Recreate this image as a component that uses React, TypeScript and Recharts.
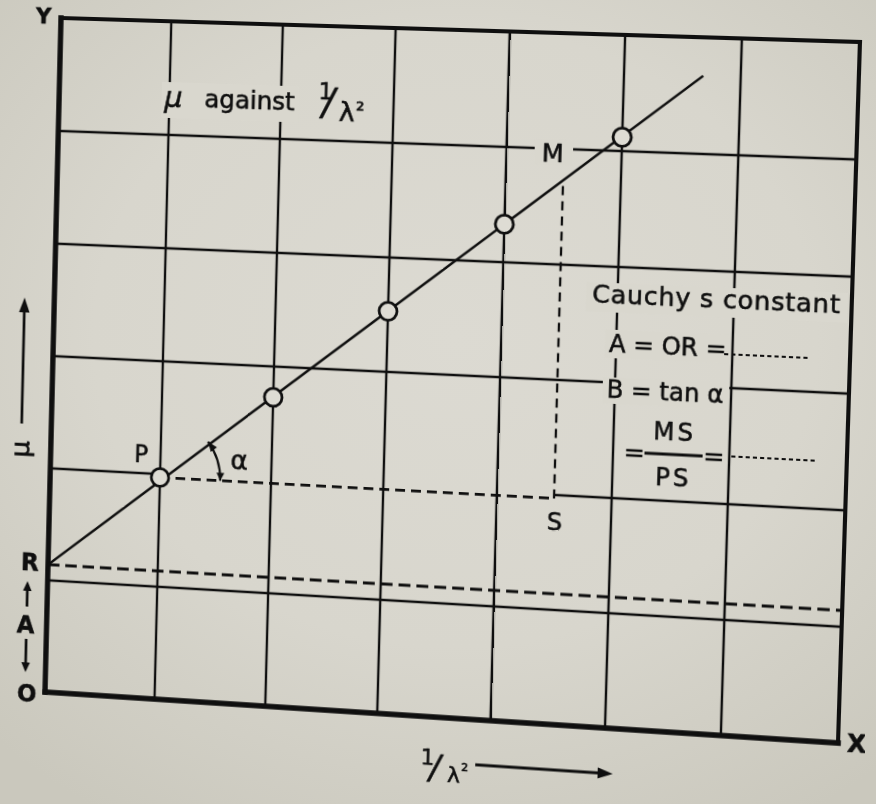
import React from 'react';
import {
  ComposedChart,
  XAxis,
  YAxis,
  Line,
  Scatter,
  ReferenceLine,
  ReferenceDot,
} from 'recharts';

const WIDTH = 876;
const HEIGHT = 804;
// Plot rectangle inside the SVG (before the sheet tilt is applied)
const PLOT = { left: 52, top: 18, width: 798, height: 684 };

const INK = '#0f0f0f';
const PAPER = '#d9d7ce';
const FONT = '"DejaVu Sans", "Liberation Sans", sans-serif';

// Graph-paper extent, in squares
const xMax = 7;
const yMax = 6;
const xGridLines = [1, 2, 3, 4, 5, 6];
const yGridLines = [1, 3, 4, 5]; // the line at 2 is split around the PS construction
const splitGridLine = 2;

// Readings: refractive index μ against 1/λ²
const invLambdaSq = [1, 2, 3, 4, 5];
const muReadings = [1.97, 2.73, 3.53, 4.33, 5.12];

// Straight line drawn through the readings
const fitInvLambdaSq = [0, 5.68];
const fitMu = [1.14, 5.67];

// Construction: S lies under M, level with P
const sInvLambdaSq = 4.5;
const mMu = 4.73;

// Corners of the plot frame on the tilted sheet: TL, TR, BR, BL
const sheetCorners: [number, number][] = [
  [61, 18],
  [860, 42],
  [838, 743],
  [45, 692],
];

const points = invLambdaSq.map((x, i) => ({ x, mu: muReadings[i] }));
const fitData = fitInvLambdaSq.map((x, i) => ({ x, mu: fitMu[i] }));
const R = fitMu[0];
const P = points[0];

const unitX = PLOT.width / xMax;
const unitY = PLOT.height / yMax;
const slopeAngle = Math.atan(
  ((fitMu[1] - fitMu[0]) / (fitInvLambdaSq[1] - fitInvLambdaSq[0])) * (unitY / unitX)
);

// Projective map of the plot rectangle onto the four sheet corners
function sheetMatrix(): string {
  const [[x0, y0], [x1, y1], [x2, y2], [x3, y3]] = sheetCorners;
  const dx1 = x1 - x2;
  const dy1 = y1 - y2;
  const dx2 = x3 - x2;
  const dy2 = y3 - y2;
  const dx3 = x0 - x1 + x2 - x3;
  const dy3 = y0 - y1 + y2 - y3;
  const den = dx1 * dy2 - dx2 * dy1;
  const g = (dx3 * dy2 - dx2 * dy3) / den;
  const h = (dx1 * dy3 - dx3 * dy1) / den;
  const a = x1 - x0 + g * x1;
  const b = x3 - x0 + h * x3;
  const c = x0;
  const d = y1 - y0 + g * y1;
  const e = y3 - y0 + h * y3;
  const f = y0;
  const { left: L, top: T, width: Wp, height: Hp } = PLOT;
  const m = [
    a / Wp, d / Wp, 0, g / Wp,
    b / Hp, e / Hp, 0, h / Hp,
    0, 0, 1, 0,
    c - (a * L) / Wp - (b * T) / Hp,
    f - (d * L) / Wp - (e * T) / Hp,
    0,
    1 - (g * L) / Wp - (h * T) / Hp,
  ];
  return `matrix3d(${m.map((v) => v.toFixed(8)).join(',')})`;
}

// Printed lettering: slightly heavier than the regular face
const txt = { fill: INK, fontFamily: FONT, stroke: INK, strokeWidth: 0.55 } as const;

const mark = (draw: (cx: number, cy: number) => React.ReactNode) => (p: any) =>
  <g>{draw(p.cx, p.cy)}</g>;

function arrowHead(tx: number, ty: number, dirX: number, dirY: number, len = 12, half = 4.5) {
  const bx = tx - dirX * len;
  const by = ty - dirY * len;
  const nx = -dirY;
  const ny = dirX;
  return (
    <path
      d={`M${tx},${ty} L${bx + nx * half},${by + ny * half} L${bx - nx * half},${by - ny * half} Z`}
      fill={INK}
      stroke="none"
    />
  );
}

const drawTitle = (cx: number, cy: number) => (
  <>
    <rect x={cx - 8} y={cy - 53} width={140} height={36} fill={PAPER} />
    <text {...txt}>
      <tspan x={cx - 5} y={cy - 28} fontSize={29} fontStyle="italic">μ</tspan>
      <tspan x={cx + 36} y={cy - 29} fontSize={25}>against</tspan>
      <tspan x={cx + 152} y={cy - 41} fontSize={23}>1</tspan>
      <tspan x={cx + 156} y={cy - 26} fontSize={37} fontStyle="italic">/</tspan>
      <tspan x={cx + 173} y={cy - 20} fontSize={27}>λ</tspan>
      <tspan x={cx + 190} y={cy - 24} fontSize={22}>²</tspan>
    </text>
  </>
);

const drawXLabel = (cx: number, cy: number) => (
  <>
    <text {...txt}>
      <tspan x={cx - 12} y={cy + 48} fontSize={22}>1</tspan>
      <tspan x={cx - 3} y={cy + 62} fontSize={33} fontStyle="italic">/</tspan>
      <tspan x={cx + 15} y={cy + 64} fontSize={22}>λ</tspan>
      <tspan x={cx + 29} y={cy + 58} fontSize={18}>²</tspan>
    </text>
    <line x1={cx + 43} y1={cy + 45} x2={cx + 168} y2={cy + 45} stroke={INK} strokeWidth={2.8} />
    {arrowHead(cx + 180, cy + 45, 1, 0, 15, 5.5)}
  </>
);

const drawYLabel = (cx: number, cy: number) => (
  <>
    <text
      {...txt}
      x={cx - 32}
      y={cy - 18}
      fontSize={27}
      textAnchor="middle"
      dominantBaseline="central"
      transform={`rotate(-90 ${cx - 32} ${cy - 18})`}
    >
      μ
    </text>
    <line x1={cx - 31} y1={cy - 44} x2={cx - 31} y2={cy - 160} stroke={INK} strokeWidth={2.8} />
    {arrowHead(cx - 31, cy - 172, 0, -1, 15, 5.5)}
  </>
);

const drawInterceptBracket = (cx: number, cy: number) => (
  <>
    <text {...txt} x={cx - 22} y={cy + 6} fontSize={24} fontWeight={700} textAnchor="middle">A</text>
    <line x1={cx - 21} y1={cy - 21} x2={cx - 21} y2={cy - 38} stroke={INK} strokeWidth={2.8} />
    {arrowHead(cx - 21, cy - 47, 0, -1, 10, 4.5)}
    <line x1={cx - 21} y1={cy + 12} x2={cx - 21} y2={cy + 37} stroke={INK} strokeWidth={2.8} />
    {arrowHead(cx - 21, cy + 46, 0, 1, 10, 4.5)}
  </>
);

const drawAngle = (cx: number, cy: number) => {
  const r = 62;
  const ex = cx + r * Math.cos(slopeAngle);
  const ey = cy - r * Math.sin(slopeAngle);
  return (
    <>
      <path d={`M${cx + r},${cy} A${r},${r} 0 0 0 ${ex},${ey}`} fill="none" stroke={INK} strokeWidth={2.2} />
      {arrowHead(ex, ey, -Math.sin(slopeAngle), -Math.cos(slopeAngle), 10, 4)}
      {arrowHead(cx + r, cy, 0, 1, 8, 4)}
      <text {...txt} x={cx + 72} y={cy - 12} fontSize={27}>α</text>
    </>
  );
};

const drawCauchy = (cx: number, cy: number) => (
  <>
    <rect x={cx - 31} y={cy - 98} width={255} height={29} fill={PAPER} />
    <text {...txt} x={cx - 25} y={cy - 78} fontSize={25} letterSpacing={0.7}>
      Cauchy s constant
    </text>

    <rect x={cx - 11} y={cy - 52} width={121} height={28} fill={PAPER} />
    <text {...txt} x={cx - 7} y={cy - 30} fontSize={24}>A = OR =</text>
    <line x1={cx + 106} y1={cy - 33} x2={cx + 190} y2={cy - 33} stroke={INK} strokeWidth={2} strokeDasharray="4 3" />

    <rect x={cx - 12} y={cy - 5} width={124} height={26} fill={PAPER} />
    <text {...txt} x={cx - 8} y={cy + 15} fontSize={24}>B = tan α</text>

    <text {...txt} x={cx + 21} y={cy + 76} fontSize={25} textAnchor="middle">=</text>
    <text {...txt} x={cx + 60} y={cy + 54} fontSize={24} textAnchor="middle" letterSpacing={3}>MS</text>
    <line x1={cx + 31} y1={cy + 68} x2={cx + 88} y2={cy + 68} stroke={INK} strokeWidth={2.8} />
    <text {...txt} x={cx + 60} y={cy + 99} fontSize={24} textAnchor="middle" letterSpacing={3}>PS</text>
    <text {...txt} x={cx + 99} y={cy + 76} fontSize={25} textAnchor="middle">=</text>
    <line x1={cx + 116} y1={cy + 67} x2={cx + 198} y2={cy + 67} stroke={INK} strokeWidth={2} strokeDasharray="4 3" />
  </>
);

const refMark = (x: number, y: number, draw: (cx: number, cy: number) => React.ReactNode, key: string) => (
  <ReferenceDot key={key} x={x} y={y} r={0} ifOverflow="visible" shape={mark(draw)} />
);

export default function App() {
  const gridLine = { stroke: INK, strokeWidth: 2.4 };
  const frame = { stroke: INK, strokeLinecap: 'square' as const };

  return (
    <div
      style={{
        position: 'fixed',
        inset: 0,
        overflow: 'hidden',
        background:
          'radial-gradient(ellipse 75% 70% at 52% 42%, #dcdad2 0%, #d8d6cd 55%, #cac8bd 100%)',
      }}
    >
      <div
        style={{
          position: 'absolute',
          left: 0,
          top: 0,
          width: WIDTH,
          height: HEIGHT,
          transformOrigin: '0 0',
          transform: sheetMatrix(),
        }}
      >
        <ComposedChart
          width={WIDTH}
          height={HEIGHT}
          margin={{
            top: PLOT.top,
            left: PLOT.left,
            right: WIDTH - PLOT.left - PLOT.width,
            bottom: HEIGHT - PLOT.top - PLOT.height,
          }}
        >
          <XAxis type="number" dataKey="x" domain={[0, xMax]} hide allowDataOverflow />
          <YAxis type="number" domain={[0, yMax]} hide allowDataOverflow />

          {xGridLines.map((v) => (
            <ReferenceLine key={`gx${v}`} x={v} {...gridLine} />
          ))}
          {yGridLines.map((v) => (
            <ReferenceLine key={`gy${v}`} y={v} {...gridLine} />
          ))}
          <ReferenceLine
            segment={[{ x: 0, y: splitGridLine }, { x: P.x, y: splitGridLine }]}
            {...gridLine}
          />
          <ReferenceLine
            segment={[{ x: sInvLambdaSq, y: splitGridLine }, { x: xMax, y: splitGridLine }]}
            {...gridLine}
          />

          {/* frame */}
          <ReferenceLine x={0} strokeWidth={5.5} {...frame} />
          <ReferenceLine y={0} strokeWidth={5.5} {...frame} />
          <ReferenceLine x={xMax} strokeWidth={4} {...frame} />
          <ReferenceLine y={yMax} strokeWidth={4} {...frame} />

          {/* construction lines */}
          <ReferenceLine y={R} stroke={INK} strokeWidth={3} strokeDasharray="12 6" />
          <ReferenceLine
            segment={[{ x: P.x, y: P.mu }, { x: sInvLambdaSq, y: P.mu }]}
            stroke={INK}
            strokeWidth={2.8}
            strokeDasharray="10 6"
          />
          <ReferenceLine
            segment={[{ x: sInvLambdaSq, y: P.mu }, { x: sInvLambdaSq, y: mMu }]}
            stroke={INK}
            strokeWidth={2.3}
            strokeDasharray="9 6"
          />

          <Line
            data={fitData}
            dataKey="mu"
            type="linear"
            stroke={INK}
            strokeWidth={2.5}
            dot={false}
            activeDot={false}
            isAnimationActive={false}
          />
          <Scatter
            data={points}
            dataKey="mu"
            isAnimationActive={false}
            shape={(p: any) => (
              <circle cx={p.cx} cy={p.cy} r={9} fill="#dedcd4" stroke={INK} strokeWidth={2.8} />
            )}
          />

          {refMark(1, 5, drawTitle, 'title')}
          {refMark(5, 3, drawCauchy, 'cauchy')}
          {refMark(sInvLambdaSq, mMu, (cx, cy) => (
            <>
              <rect x={cx - 29} y={cy - 39} width={38} height={24} fill={PAPER} />
              <text {...txt} x={cx - 11} y={cy - 18} fontSize={25} textAnchor="middle">M</text>
            </>
          ), 'M')}
          {refMark(sInvLambdaSq, P.mu, (cx, cy) => (
            <text {...txt} x={cx + 1} y={cy + 32} fontSize={24} textAnchor="middle">S</text>
          ), 'S')}
          {refMark(P.x, P.mu, (cx, cy) => (
            <text {...txt} x={cx - 20} y={cy - 14} fontSize={24} textAnchor="middle">P</text>
          ), 'P')}
          {refMark(P.x, P.mu, drawAngle, 'alpha')}
          {refMark(0, R, (cx, cy) => (
            <text {...txt} x={cx - 19} y={cy + 7} fontSize={24} fontWeight={700} textAnchor="middle">R</text>
          ), 'R')}
          {refMark(0, 0, (cx, cy) => (
            <text {...txt} x={cx - 19} y={cy + 11} fontSize={24} fontWeight={700} textAnchor="middle">O</text>
          ), 'O')}
          {refMark(0, R / 2, drawInterceptBracket, 'A')}
          {refMark(0, 2, drawYLabel, 'ylabel')}
          {refMark(xMax / 2, 0, drawXLabel, 'xlabel')}
          {refMark(0, yMax, (cx, cy) => (
            <text {...txt} x={cx - 18} y={cy + 6} fontSize={22} fontWeight={700} textAnchor="middle">Y</text>
          ), 'Y')}
          {refMark(xMax, 0, (cx, cy) => (
            <text {...txt} x={cx + 18} y={cy + 8} fontSize={24} fontWeight={700} textAnchor="middle">X</text>
          ), 'X')}
        </ComposedChart>
      </div>
    </div>
  );
}
